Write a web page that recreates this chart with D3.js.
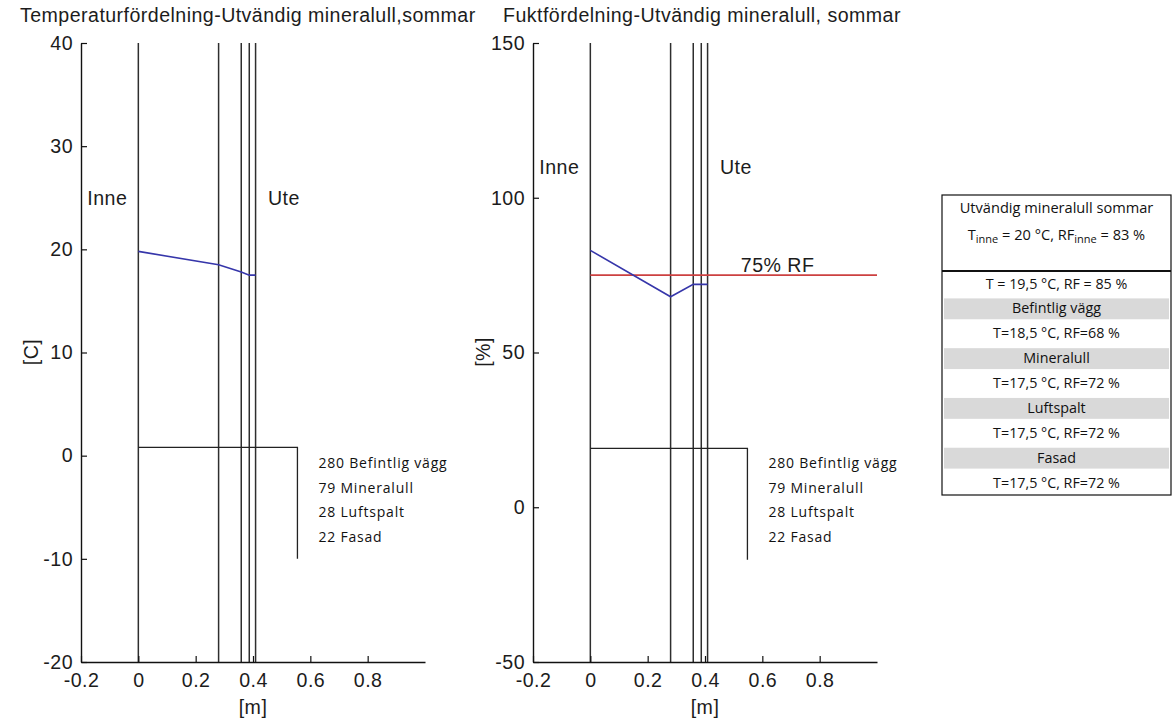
<!DOCTYPE html>
<html>
<head>
<meta charset="utf-8">
<script src="https://cdn.jsdelivr.net/npm/d3@7"></script>
<style>
  html, body { margin: 0; padding: 0; background: #fff; }
  svg { display: block; }
  .mtext { font-family: "Liberation Sans", Arial, sans-serif; fill: #1c1c1c; letter-spacing: 0.45px; }
  .legtext { font-family: "Open Sans", sans-serif; fill: #111; }
  .tabtext { font-family: "Open Sans", sans-serif; fill: #111; }
</style>
</head>
<body>
<svg id="chart" width="1172" height="718"></svg>
<script>
// Wall layers, outside insulation, summer case
const layerNames = ["Befintlig vägg", "Mineralull", "Luftspalt", "Fasad"];
const layerThicknessMm = [280, 79, 28, 22];

// Interface positions [m] (inner surface + end of each layer)
const interfaces = [0, 0.28, 0.359, 0.387, 0.409];

// Temperature [°C] and relative humidity [%] at each interface
const tempValues = [19.8, 18.5, 17.8, 17.5, 17.5];
const rfValues = [83, 68, 72, 72, 72];

// Critical humidity level
const rfLimit = 75;

// Axis ticks
const xTicks = [-0.2, 0, 0.2, 0.4, 0.6, 0.8];
const tempTicks = [-20, -10, 0, 10, 20, 30, 40];
const rfTicks = [-50, 0, 50, 100, 150];

// Summary table
const tableTitle = "Utvändig mineralull sommar";
const tableInne = { T: 20, RF: 83 };
const tableRows = [
  "T = 19,5 °C, RF = 85 %",
  "Befintlig vägg",
  "T=18,5 °C, RF=68 %",
  "Mineralull",
  "T=17,5 °C, RF=72 %",
  "Luftspalt",
  "T=17,5 °C, RF=72 %",
  "Fasad",
  "T=17,5 °C, RF=72 %"
];
const tableShaded = [false, true, false, true, false, true, false, true, false];

const svg = d3.select("#chart");

function fmtTick(d) { return d === 0 ? "0" : String(d); }

function drawPanel(opt) {
  const g = svg.append("g");
  const x = d3.scaleLinear().domain([-0.2, 1.0]).range([opt.left, opt.left + 344]);
  const y = d3.scaleLinear().domain(opt.yDomain).range([662, 43]);

  // Title
  g.append("text").attr("class", "mtext")
    .attr("x", opt.titleX).attr("y", 22)
    .style("font-size", "19.6px")
    .text(opt.title);

  // Layer boundaries
  g.selectAll("line.layer").data(interfaces).join("line")
    .attr("class", "layer")
    .attr("x1", d => x(d)).attr("x2", d => x(d))
    .attr("y1", y(opt.yDomain[1])).attr("y2", y(opt.yDomain[0]))
    .attr("stroke", "#2e2e2e").attr("stroke-width", 1.5);

  // Legend bracket and layer list
  const b = opt.bracket;
  g.append("path")
    .attr("d", `M${x(0)},${y(b.top)}H${x(b.right)}V${y(b.bottom)}`)
    .attr("fill", "none").attr("stroke", "#222").attr("stroke-width", 1.3);
  g.selectAll("text.leg").data(layerNames).join("text")
    .attr("class", "legtext leg")
    .attr("x", x(b.right) + 21)
    .attr("y", (d, i) => 468 + i * 24.7)
    .style("font-size", "14px")
    .style("letter-spacing", "0.8px")
    .text((d, i) => layerThicknessMm[i] + " " + d);

  // Optional reference line
  if (opt.limit != null) {
    g.append("line")
      .attr("x1", x(0)).attr("x2", x(1.0))
      .attr("y1", y(opt.limit)).attr("y2", y(opt.limit))
      .attr("stroke", "#cc4040").attr("stroke-width", 1.6);
    g.append("text").attr("class", "mtext")
      .attr("x", x(0.525)).attr("y", y(opt.limit) - 3)
      .style("font-size", "19.6px")
      .text(opt.limit + "% RF");
  }

  // Profile curve
  const line = d3.line().x((d, i) => x(interfaces[i])).y(d => y(d));
  g.append("path").datum(opt.values)
    .attr("d", line)
    .attr("fill", "none").attr("stroke", "#3636aa").attr("stroke-width", 1.6);

  // Inne / Ute labels
  g.append("text").attr("class", "mtext")
    .attr("x", x(-0.178)).attr("y", y(opt.labelY)).attr("dy", "0.35em")
    .style("font-size", "19.6px").text("Inne");
  g.append("text").attr("class", "mtext")
    .attr("x", x(0.452)).attr("y", y(opt.labelY)).attr("dy", "0.35em")
    .style("font-size", "19.6px").text("Ute");

  // Axes
  const xAxis = d3.axisBottom(x).tickValues(xTicks).tickFormat(fmtTick)
    .tickSizeInner(-6).tickSizeOuter(0).tickPadding(11);
  const yAxis = d3.axisLeft(y).tickValues(opt.yTicks).tickFormat(fmtTick)
    .tickSizeInner(-6).tickSizeOuter(0).tickPadding(8);

  const gx = g.append("g").attr("transform", "translate(0,662)").call(xAxis);
  const gy = g.append("g").attr("transform", `translate(${opt.left},0)`).call(yAxis);
  [gx, gy].forEach(a => {
    a.select(".domain").attr("stroke", "#111").attr("stroke-width", 1.4);
    a.selectAll(".tick line").attr("stroke", "#111").attr("stroke-width", 1.2);
    a.selectAll(".tick text").attr("class", "mtext")
      .style("font-size", "19.6px").attr("fill", "#1c1c1c");
  });

  // Axis titles
  g.append("text").attr("class", "mtext")
    .attr("x", opt.left + 172).attr("y", 714)
    .attr("text-anchor", "middle")
    .style("font-size", "19.6px").text("[m]");
  g.append("text").attr("class", "mtext")
    .attr("transform", `translate(${opt.left - 43},352) rotate(-90)`)
    .attr("text-anchor", "middle")
    .style("font-size", "19.6px").text(opt.yLabel);
}

drawPanel({
  left: 81,
  titleX: 20,
  title: "Temperaturfördelning-Utvändig mineralull,sommar",
  yDomain: [-20, 40],
  yTicks: tempTicks,
  values: tempValues,
  yLabel: "[C]",
  labelY: 25,
  bracket: { right: 0.555, top: 0.8, bottom: -10 },
  limit: null
});

drawPanel({
  left: 533,
  titleX: 503,
  title: "Fuktfördelning-Utvändig mineralull, sommar",
  yDomain: [-50, 150],
  yTicks: rfTicks,
  values: rfValues,
  yLabel: "[%]",
  labelY: 110,
  bracket: { right: 0.548, top: 19, bottom: -17 },
  limit: rfLimit
});

// Summary table
(function drawTable() {
  const tx = 942, tw = 229, top = 195, sep = 271, bottom = 495;
  const t = svg.append("g");
  const rowH = (bottom - sep) / tableRows.length;
  const cx = tx + tw / 2;

  t.selectAll("rect.shade").data(tableRows).join("rect")
    .attr("class", "shade")
    .attr("x", tx + 2).attr("width", tw - 4)
    .attr("y", (d, i) => sep + i * rowH + 2.5)
    .attr("height", rowH - 4)
    .attr("fill", (d, i) => tableShaded[i] ? "#d9d9d9" : "none");

  t.append("rect")
    .attr("x", tx).attr("y", top).attr("width", tw).attr("height", bottom - top)
    .attr("fill", "none").attr("stroke", "#111").attr("stroke-width", 1.2);
  t.append("line")
    .attr("x1", tx).attr("x2", tx + tw).attr("y1", sep).attr("y2", sep)
    .attr("stroke", "#111").attr("stroke-width", 1.8);

  t.append("text").attr("class", "tabtext")
    .attr("x", cx).attr("y", 213).attr("text-anchor", "middle")
    .style("font-size", "14.6px").text(tableTitle);

  const h2 = t.append("text").attr("class", "tabtext")
    .attr("x", cx).attr("y", 240).attr("text-anchor", "middle")
    .style("font-size", "14.6px");
  h2.append("tspan").text("T");
  h2.append("tspan").attr("dy", 3).style("font-size", "11px").text("inne");
  h2.append("tspan").attr("dy", -3).text(" = " + tableInne.T + " °C, RF");
  h2.append("tspan").attr("dy", 3).style("font-size", "11px").text("inne");
  h2.append("tspan").attr("dy", -3).text(" = " + tableInne.RF + " %");

  t.selectAll("text.row").data(tableRows).join("text")
    .attr("class", "tabtext row")
    .attr("x", cx)
    .attr("y", (d, i) => sep + (i + 0.5) * rowH)
    .attr("dy", "0.36em")
    .attr("text-anchor", "middle")
    .style("font-size", "14.3px")
    .text(d => d);
})();
</script>
</body>
</html>
